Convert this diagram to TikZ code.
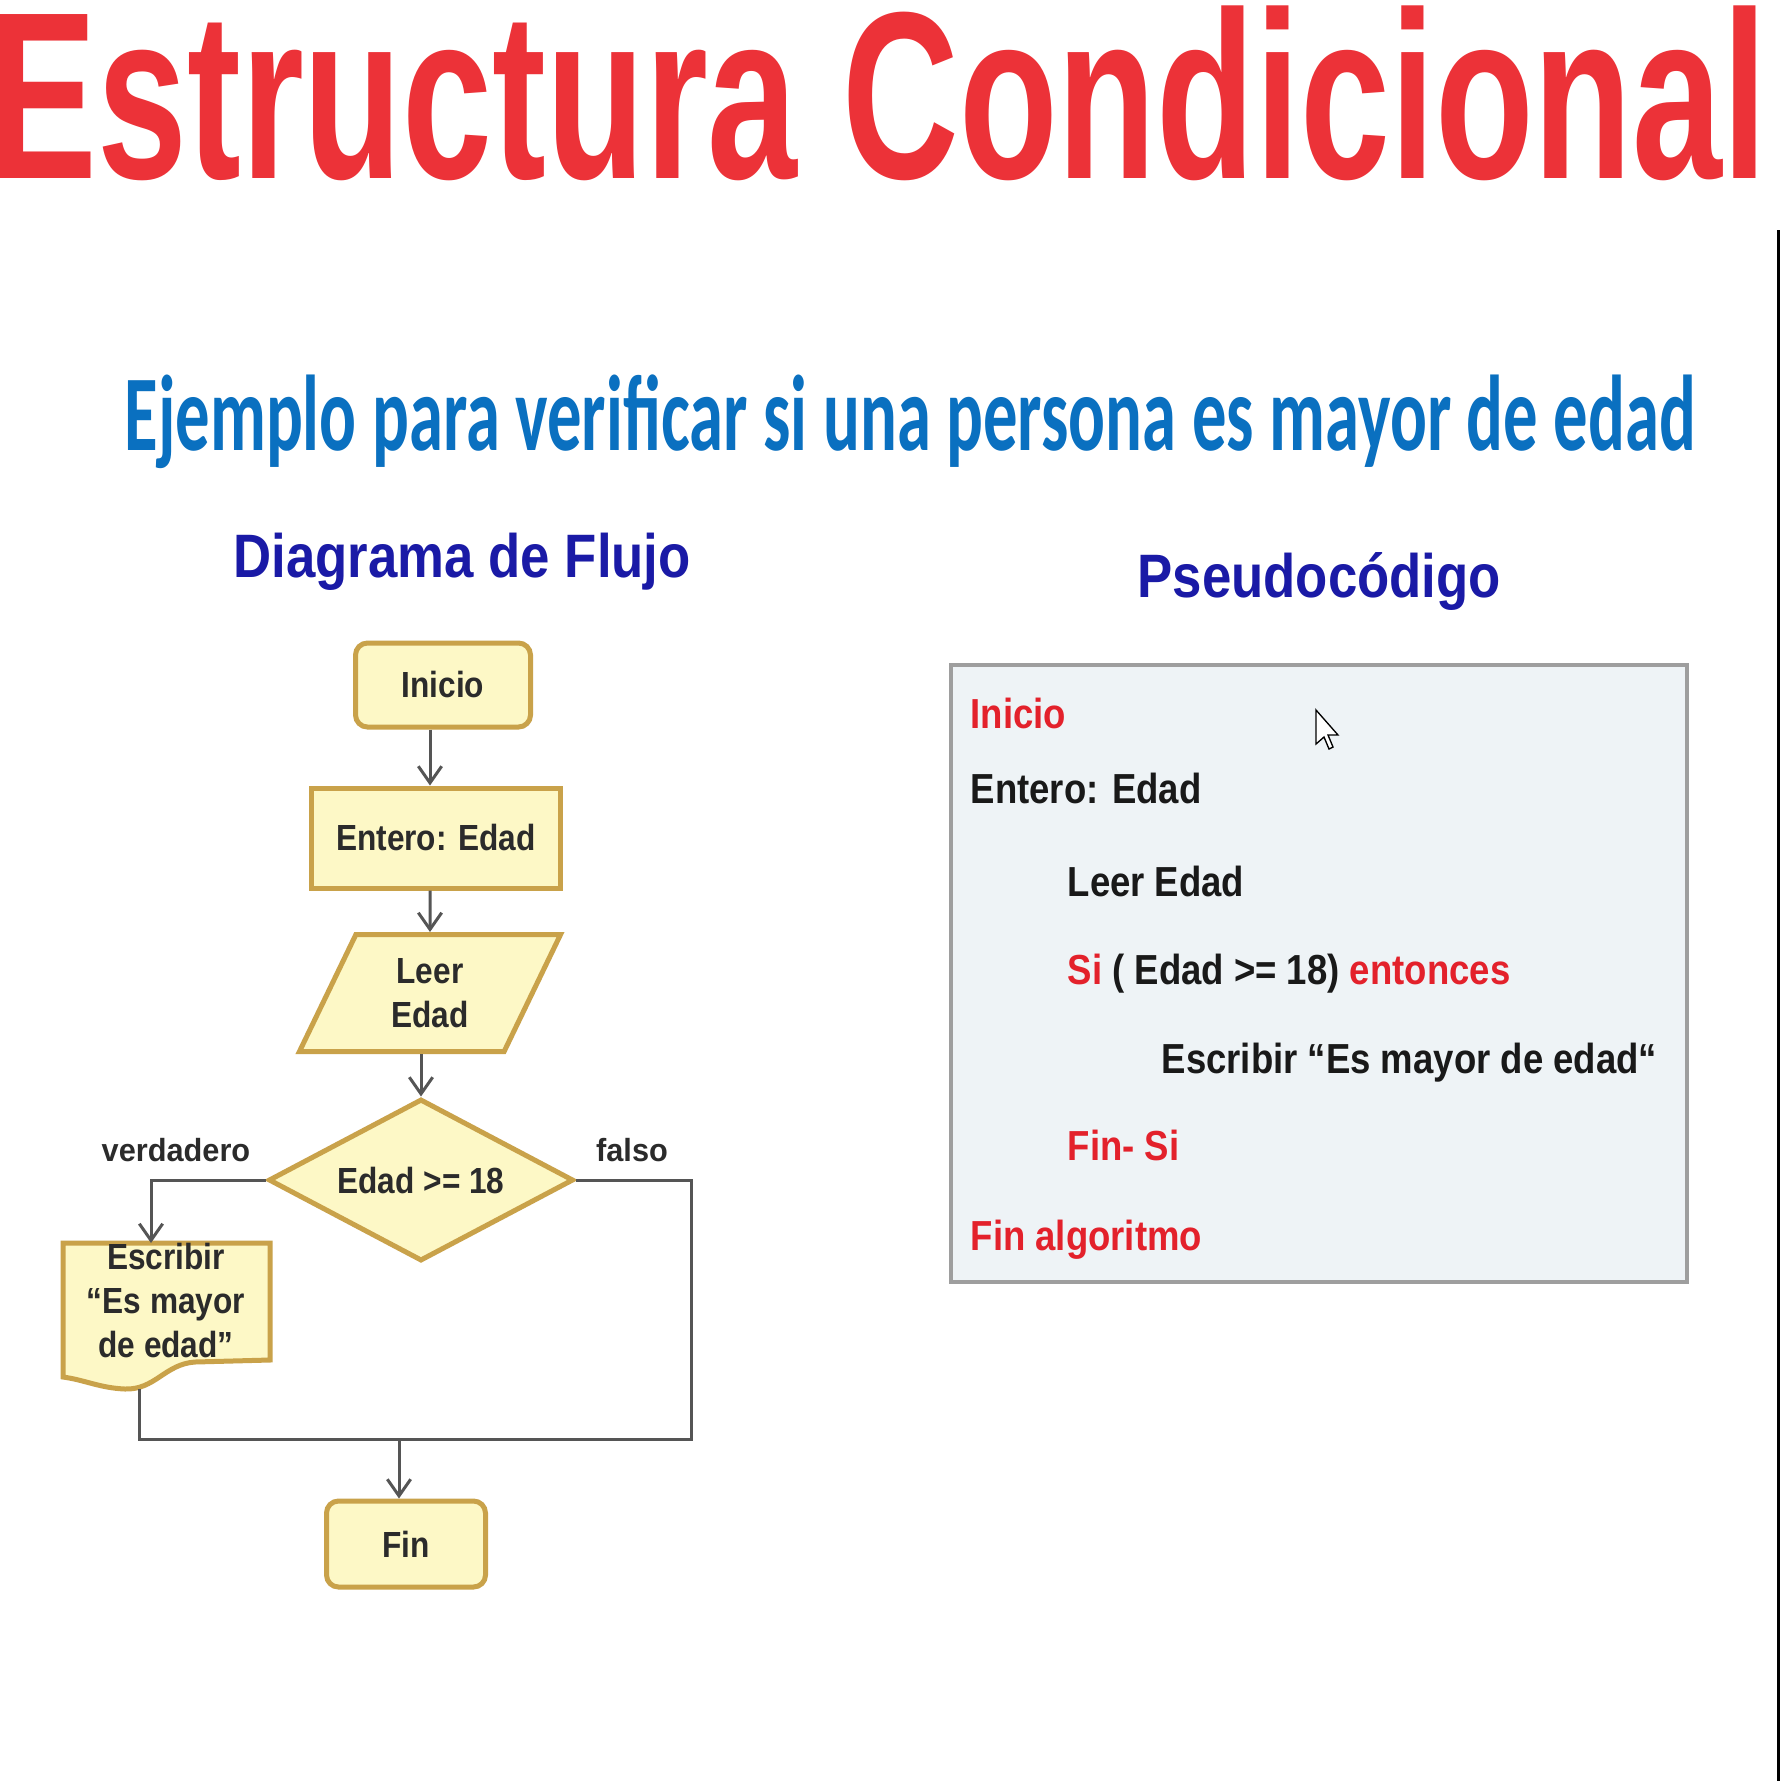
\documentclass[tikz,border=0pt]{standalone}
\usepackage{fontspec}
\setmainfont{Liberation Sans}
\newfontfamily\titulo[FakeStretch=0.678]{Liberation Sans}
\newfontfamily\subtitulo[FakeStretch=0.638]{Carlito}
\newfontfamily\encab[FakeStretch=0.86]{Liberation Sans}
\newfontfamily\angosta[FakeStretch=0.87]{Liberation Sans}
\newfontfamily\etiq[FakeStretch=0.96]{Liberation Sans}
\usetikzlibrary{shapes.geometric,arrows.meta}
\definecolor{rojo}{HTML}{EC3238}
\definecolor{azul}{HTML}{0A70C0}
\definecolor{azuloscuro}{HTML}{1A1AA6}
\definecolor{relleno}{HTML}{FDF8C6}
\definecolor{borde}{HTML}{C9A24A}
\definecolor{fondo}{HTML}{EEF3F6}
\definecolor{rojocod}{HTML}{E3212B}
\definecolor{gris}{HTML}{555555}
\definecolor{tinta}{HTML}{2B2B2B}
\begin{document}
\begin{tikzpicture}[x=0.3pt,y=-0.3pt,
    caja/.style={draw=borde,fill=relleno,line width=1.5pt,inner sep=0pt,align=center,
      text=tinta,font=\angosta\bfseries\fontsize{10.9}{13.2}\selectfont},
    etiqueta/.style={anchor=base,inner sep=0pt,text=tinta,
      font=\etiq\bfseries\fontsize{9.6}{11}\selectfont},
    cod/.style={anchor=base west,inner sep=0pt,text=black!90,
      font=\angosta\bfseries\fontsize{12.6}{15}\selectfont},
    linea/.style={draw=gris,line width=0.9pt},
    flecha/.style={linea,-{Straight Barb[length=5pt,width=7pt]}}]
  \fill[white] (0,0) rectangle (1780,1781);
  \useasboundingbox (0,0) rectangle (1780,1781);
  \draw[line width=0.9pt] (1778,230) -- (1778,1781);
  \node[anchor=base west,inner sep=0pt,text=rojo,
    font=\titulo\bfseries\fontsize{71.5}{80}\selectfont] (titulo) at (-11,178)
    {Estructura Condicional};
  \node[anchor=base west,inner sep=0pt,text=azul,
    font=\subtitulo\bfseries\fontsize{32.3}{36}\selectfont] (ejemplo) at (124,450)
    {Ejemplo para verificar si una persona es mayor de edad};
  \node[anchor=base west,inner sep=0pt,text=azuloscuro,
    font=\encab\bfseries\fontsize{18.4}{22}\selectfont] (diagrama) at (233,577)
    {Diagrama de Flujo};
  \node[anchor=base west,inner sep=0pt,text=azuloscuro,
    font=\encab\bfseries\fontsize{18.4}{22}\selectfont] (pseudo) at (1137,597)
    {Pseudocódigo};
  % diagrama de flujo
  \node[caja,rounded corners=3.6pt,minimum width=52.5pt,minimum height=25.2pt]
    (inicio) at (443,685) {Inicio};
  \node[caja,minimum width=74.7pt,minimum height=30pt] (entero) at (436,838)
    {Entero: Edad};
  \node[caja,trapezium,trapezium left angle=67,trapezium right angle=113,
    trapezium stretches=true,minimum width=78.6pt,minimum height=35.1pt]
    (leer) at (430,993) {Leer\\Edad};
  \node[caja,diamond,aspect=1.9,minimum width=91.5pt,minimum height=48.6pt] (cond)
    at (421,1180) {Edad >= 18};
  \filldraw[draw=borde,fill=relleno,line width=1.5pt] (63,1243) -- (270,1243)
    -- (270,1360) -- (195,1362) .. controls (165,1364) and (155,1390) .. (125,1389)
    .. controls (100,1388) and (85,1380) .. (63,1377) -- cycle;
  \node[caja,draw=none,fill=none] (escribir) at (166,1300)
    {Escribir\\“Es mayor\\de edad”};
  \node[caja,rounded corners=3.6pt,minimum width=47.7pt,minimum height=25.8pt]
    (fin) at (406,1544) {Fin};
  \coordinate (escarriba) at (151,1243);
  \coordinate (escpie) at (139,1389);
  \coordinate (union) at (399,1439);
  \coordinate (derecha) at (691,1439);
  \draw[flecha] (inicio.south -| leer) -- (entero.north -| leer);
  \draw[flecha] (entero.south -| leer) -- (leer.north);
  \draw[flecha] (leer.south -| cond.north) -- (cond.north);
  \draw[flecha] (cond.west) -| (escarriba);
  \draw[linea] (escpie) |- (derecha) |- (cond.east);
  \draw[flecha] (union) -- (union |- fin.north);
  \node[etiqueta] (verdadero) at (176,1161) {verdadero};
  \node[etiqueta] (falso) at (632,1161) {falso};
  % pseudocodigo
  \node[draw=black!38,fill=fondo,line width=1.2pt,minimum width=220.8pt,
    minimum height=185.1pt] (caja) at (1319,973) {};
  \node[cod,text=rojocod] (l1) at (970,728) {Inicio};
  \node[cod] (l2) at (970,803) {Entero: Edad};
  \node[cod] (l3) at (1067,896) {Leer Edad};
  \node[cod] (l4) at (1067,984)
    {\textcolor{rojocod}{Si} ( Edad >= 18) \textcolor{rojocod}{entonces}};
  \node[cod] (l5) at (1161,1073) {Escribir “Es mayor de edad“};
  \node[cod,text=rojocod] (l6) at (1067,1160) {Fin- Si};
  \node[cod,text=rojocod] (l7) at (970,1250) {Fin algoritmo};
  \draw[fill=white,line width=0.4pt] (1316,710) -- ++(0,34) -- ++(8,-7)
    -- ++(5,12) -- ++(4,-2) -- ++(-5,-12) -- ++(10,0) -- cycle;
\end{tikzpicture}
\end{document}
